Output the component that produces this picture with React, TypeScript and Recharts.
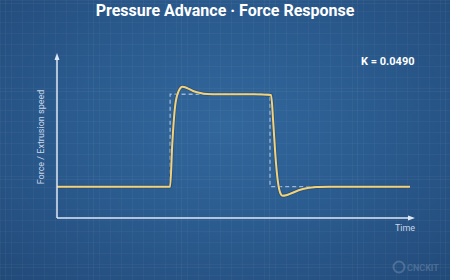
import React from 'react'
import { ComposedChart, Line, XAxis, YAxis } from 'recharts'

// time (0-100) vs normalised force/speed (0-100)
const responseT = [0, 31.6, 32.2, 33, 34, 35, 36.5, 38, 40, 42, 45, 50, 55, 59.8, 60.4, 61, 61.7, 62.4, 63, 64, 65.5, 67.5, 70, 73, 76, 85, 98.6]
const responseV = [19, 19, 45, 68, 77, 79.5, 78.6, 77, 75.8, 75.2, 75, 75, 75, 74.5, 58, 38, 22, 15, 13.5, 13.8, 15, 16.8, 18.2, 18.8, 19, 19, 19]

const stepT = [0, 31.6, 31.6, 59.5, 59.5, 98.6]
const stepV = [19, 19, 75, 75, 19, 19]

const kLabel = 'K = 0.0490'

const responseData = responseT.map((t, i) => ({ t, v: responseV[i] }))
const stepData = stepT.map((t, i) => ({ t, s: stepV[i] }))

if (typeof document !== 'undefined') document.body.style.margin = '0'

const W = 450
const H = 280
// plot frame
const L = 57
const R = 415
const T = 53
const B = 218

export default function App() {
  return (
    <div
      style={{
        position: 'relative',
        width: W,
        height: H,
        overflow: 'hidden',
        fontFamily: 'Roboto, sans-serif',
        background: 'radial-gradient(ellipse at 50% 45%, #32679c 0%, #2b5c90 45%, #224a79 100%)',
      }}
    >
      {/* grid */}
      <div
        style={{
          position: 'absolute',
          inset: 0,
          backgroundImage:
            'linear-gradient(rgba(255,255,255,0.03) 1px, transparent 1px), linear-gradient(90deg, rgba(255,255,255,0.03) 1px, transparent 1px)',
          backgroundSize: '11px 11px',
        }}
      />
      <div
        style={{
          position: 'absolute',
          inset: 0,
          backgroundImage:
            'linear-gradient(rgba(255,255,255,0.045) 1px, transparent 1px), linear-gradient(90deg, rgba(255,255,255,0.045) 1px, transparent 1px)',
          backgroundSize: '88px 88px',
          backgroundPosition: '5px 3px',
        }}
      />
      <div
        style={{
          position: 'absolute',
          top: 1,
          width: W,
          textAlign: 'center',
          color: '#ffffff',
          fontWeight: 700,
          fontSize: 16,
        }}
      >
        Pressure Advance · Force Response
      </div>
      <div
        style={{ position: 'absolute', left: 361, top: 55, color: '#ffffff', fontWeight: 700, fontSize: 11 }}
      >
        {kLabel}
      </div>
      <ComposedChart
        width={W}
        height={H}
        margin={{ top: T, right: W - R, bottom: H - B, left: L }}
        style={{ position: 'absolute', left: 0, top: 0 }}
      >
        <XAxis type="number" dataKey="t" domain={[0, 100]} hide allowDuplicatedCategory={false} />
        <YAxis type="number" domain={[0, 100]} hide />
        <Line
          data={stepData}
          dataKey="s"
          type="linear"
          stroke="#9db7d6"
          strokeWidth={1.3}
          strokeDasharray="4 3"
          dot={false}
          isAnimationActive={false}
        />
        <Line
          data={responseData}
          dataKey="v"
          type="monotone"
          stroke="#1f3f63"
          strokeWidth={3.6}
          strokeOpacity={0.5}
          dot={false}
          isAnimationActive={false}
        />
        <Line
          data={responseData}
          dataKey="v"
          type="monotone"
          stroke="#f2d27a"
          strokeWidth={2}
          dot={false}
          isAnimationActive={false}
        />
      </ComposedChart>
      {/* axes with arrows */}
      <svg width={W} height={H} style={{ position: 'absolute', left: 0, top: 0 }}>
        <line x1={L} y1={B} x2={L} y2={T + 4} stroke="#dfe9f5" strokeWidth={1.5} />
        <polygon points={`${L - 2.5},${T + 7} ${L + 2.5},${T + 7} ${L},${T}`} fill="#dfe9f5" />
        <line x1={L} y1={B} x2={R - 4} y2={B} stroke="#dfe9f5" strokeWidth={1.5} />
        <polygon points={`${R - 7},${B - 2.5} ${R - 7},${B + 2.5} ${R},${B}`} fill="#dfe9f5" />
        <text x={405} y={231} textAnchor="middle" fill="#c9d7e8" fontSize={9} fontFamily="Roboto, sans-serif">
          Time
        </text>
        <text
          transform="translate(44,137) rotate(-90)"
          textAnchor="middle"
          fill="#c9d7e8"
          fontSize={9}
          fontFamily="Roboto, sans-serif"
        >
          Force / Extrusion speed
        </text>
        <circle cx={399} cy={267} r={5.5} fill="none" stroke="rgba(255,255,255,0.18)" strokeWidth={2} />
        <text x={407} y={271} fill="rgba(255,255,255,0.18)" fontSize={9} fontWeight={700} fontFamily="Roboto, sans-serif">
          CNCKIT
        </text>
      </svg>
    </div>
  )
}
